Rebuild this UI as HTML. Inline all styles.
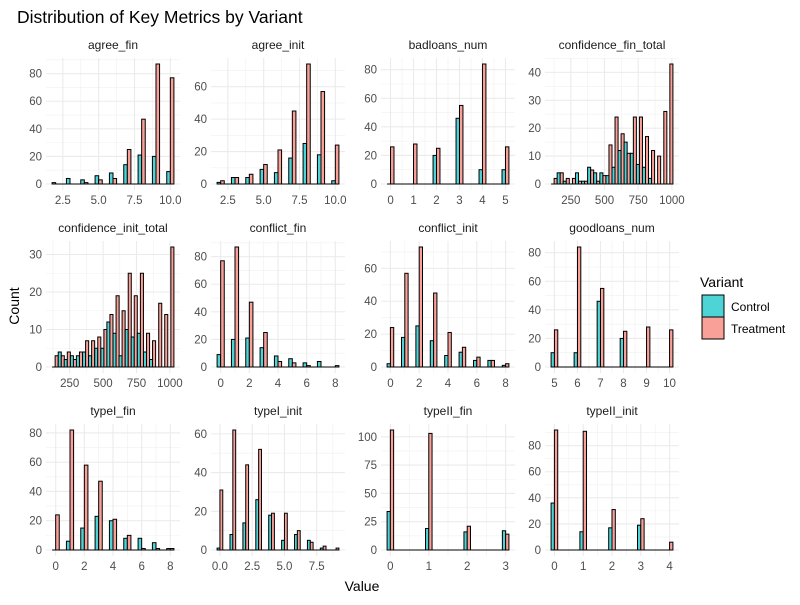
<!DOCTYPE html>
<html><head><meta charset="utf-8"><style>
body{margin:0;background:#fff;}
svg{font-family:"Liberation Sans",sans-serif;}
</style></head><body>
<svg id="chart" width="800" height="600" viewBox="0 0 800 600" xmlns="http://www.w3.org/2000/svg">
<rect width="800" height="600" fill="#fff"/>
<text x="17" y="23" font-size="17.5" fill="#000">Distribution of Key Metrics by Variant</text>
<text x="362" y="591" font-size="14" text-anchor="middle" fill="#000">Value</text>
<text x="19" y="306" font-size="14" text-anchor="middle" fill="#000" transform="rotate(-90 19 306)">Count</text>
<g>
<text x="700" y="287" font-size="14" fill="#000">Variant</text>
<rect x="702" y="295" width="22" height="22" fill="#4ED3D6" stroke="#000" stroke-width="1"/>
<text x="731" y="311" font-size="12" fill="#000">Control</text>
<rect x="702" y="317" width="22" height="22" fill="#F9A099" stroke="#000" stroke-width="1"/>
<text x="731" y="333" font-size="12" fill="#000">Treatment</text>
</g>
<g id="panels"></g>
</svg>
<script>
const facetLabels = ["agree_fin","agree_init","badloans_num","confidence_fin_total","confidence_init_total","conflict_fin","conflict_init","goodloans_num","typeI_fin","typeI_init","typeII_fin","typeII_init"];
const binCenters = [
 [2,3,4,5,6,7,8,9,10],
 [2,3,4,5,6,7,8,9,10],
 [0,1,2,3,4,5],
 [126,171,216,262,307,352,397,442,488,533,578,623,668,714,759,804,849,894,940,985],
 [141,187,232,278,323,369,414,460,506,551,597,642,688,733,779,825,870,916,961,1007],
 [0,1,2,3,4,5,6,7,8],
 [0,1,2,3,4,5,6,7,8],
 [5,6,7,8,9,10],
 [0,1,2,3,4,5,6,7,8],
 [0,1,2,3,4,5,6,7,8,9],
 [0,1,2,3],
 [0,1,2,3,4]
];
const controlCounts = [
 [1,4,3,6,8,14,21,20,9],
 [1,4,4,9,7,16,25,18,2],
 [0,0,20,46,10,10],
 [0,4,1,0,4,1,6,4,4,3,6,12,15,11,7,6,2,0,0,0],
 [0,4,2,3,3,4,3,5,5,12,9,3,10,8,9,4,2,0,0,0],
 [9,20,21,14,8,6,3,4,0],
 [2,18,25,16,7,9,4,4,1],
 [10,10,46,20,0,0],
 [0,6,15,23,20,8,8,5,1],
 [1,8,14,26,18,5,8,5,1,0],
 [34,19,16,17],
 [36,14,17,19,0]
];
const treatmentCounts = [
 [0,0,1,3,4,25,47,87,77],
 [2,4,6,12,21,45,74,57,24],
 [26,28,25,55,84,26],
 [2,4,2,2,1,1,5,1,3,14,24,18,11,24,24,17,12,10,26,43],
 [3,3,4,2,4,7,7,8,10,14,19,15,25,19,25,9,7,17,14,32],
 [77,87,47,25,4,3,1,0,1],
 [24,57,73,45,21,12,6,4,2],
 [26,84,55,25,28,26],
 [24,82,58,47,21,10,1,1,1],
 [31,62,44,52,19,19,10,4,2,1],
 [106,103,21,14],
 [92,91,31,24,6]
];
const binWidths = [0.5,0.5,0.3,45.2,45.6,0.5,0.46,0.29,0.5,0.44,0.17,0.23];
const xTickValues = [
 [2.5,5,7.5,10],[2.5,5,7.5,10],[0,1,2,3,4,5],[250,500,750,1000],[250,500,750,1000],
 [0,2,4,6,8],[0,2,4,6,8],[5,6,7,8,9,10],[0,2,4,6,8],[0,2.5,5,7.5],[0,1,2,3],[0,1,2,3,4]
];
const xTickLabels = [
 ["2.5","5.0","7.5","10.0"],["2.5","5.0","7.5","10.0"],["0","1","2","3","4","5"],["250","500","750","1000"],["250","500","750","1000"],
 ["0","2","4","6","8"],["0","2","4","6","8"],["5","6","7","8","9","10"],["0","2","4","6","8"],["0.0","2.5","5.0","7.5"],["0","1","2","3"],["0","1","2","3","4"]
];

const NS="http://www.w3.org/2000/svg";
const root=document.getElementById('panels');
const colLeft=[46,211,381,545], rowTop=[58,241,424], PW=134, PH=132;
function mk(tag,attrs,parent){const e=document.createElementNS(NS,tag);for(const k in attrs)e.setAttribute(k,attrs[k]);parent.appendChild(e);return e;}
function niceStep(max){const raw=max/4;const p=Math.pow(10,Math.floor(Math.log10(raw)));for(const m of [1,2,2.5,5,10]){if(m*p>=raw*0.85)return m*p;}return 10*p;}

for(let f=0;f<12;f++){
  const col=f%4,row=Math.floor(f/4);
  const L=colLeft[col],T=rowTop[row];
  const centers=binCenters[f],cc=controlCounts[f],tc=treatmentCounts[f],bw=binWidths[f];
  const dmin=centers[0]-bw/2,dmax=centers[centers.length-1]+bw/2,ex=(dmax-dmin)*0.05;
  const x0=dmin-ex,x1=dmax+ex;
  const xs=v=>L+(v-x0)/(x1-x0)*PW;
  const dataMax=Math.max(...cc,...tc);
  const ymin=-dataMax*0.05, ymax=dataMax*1.05;
  const ys=v=>T+PH-((v-ymin)/(ymax-ymin))*PH;
  const g=mk('g',{},root);
  
  
  const step=niceStep(dataMax);
  for(let v=step/2;v<=ymax;v+=step){const gl=mk('line',{x1:L,x2:L+PW,y1:ys(v),y2:ys(v),stroke:'#f0f0f0','stroke-width':0.6},g);
    }
  const xt=xTickValues[f];
  const xs2=xt.length>1?xt[1]-xt[0]:1;
  for(let i=0;i<=xt.length;i++){const v=xt[0]-xs2/2+i*xs2;if(v>x0&&v<x1){const gl=mk('line',{x1:xs(v),x2:xs(v),y1:T,y2:T+PH,stroke:'#f0f0f0','stroke-width':0.6},g);
    }}
  for(let v=0;v<=ymax;v+=step){
    const gl=mk('line',{x1:L,x2:L+PW,y1:ys(v),y2:ys(v),stroke:'#ebebeb','stroke-width':1.1},g);
    
    const t=mk('text',{x:L-4,y:ys(v)+4,'font-size':11.5,'text-anchor':'end',fill:'#4d4d4d'},g);t.textContent=String(v);
    
  }
  xt.forEach((v,i)=>{
    const gl=mk('line',{x1:xs(v),x2:xs(v),y1:T,y2:T+PH,stroke:'#ebebeb','stroke-width':1.1},g);
    
    const t=mk('text',{x:xs(v),y:T+PH+14,'font-size':11.5,'text-anchor':'middle',fill:'#4d4d4d'},g);t.textContent=xTickLabels[f][i];
    
  });
  const st=mk('text',{x:L+PW/2,y:T-9,'font-size':12,'text-anchor':'middle',fill:'#1a1a1a'},g);st.textContent=facetLabels[f];
  
  const bl=mk('line',{x1:xs(dmin),x2:xs(dmax),y1:ys(0),y2:ys(0),stroke:'#000','stroke-width':1},g);
  
  centers.forEach((c,i)=>{
    const left=xs(c-bw/2),mid=xs(c),right=xs(c+bw/2);
    if(cc[i]>0){const r=mk('rect',{x:left,y:ys(cc[i]),width:mid-left,height:ys(0)-ys(cc[i]),fill:'#4ED3D6',stroke:'#000','stroke-width':1},g);
      }
    if(tc[i]>0){const r=mk('rect',{x:mid,y:ys(tc[i]),width:right-mid,height:ys(0)-ys(tc[i]),fill:'#F9A099',stroke:'#000','stroke-width':1},g);
      }
  });
}
</script>
</body></html>
